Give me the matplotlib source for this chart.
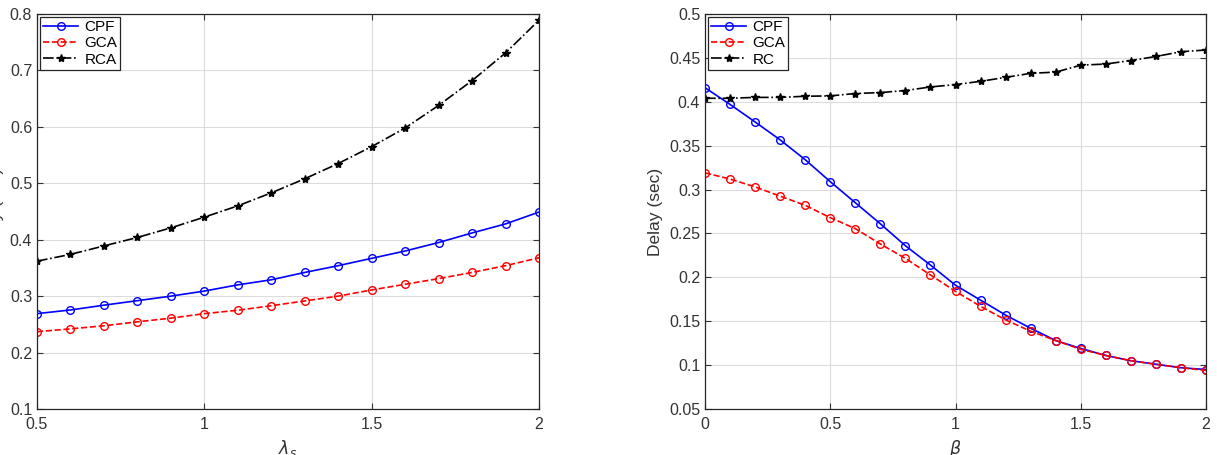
import numpy as np
import matplotlib.pyplot as plt

plt.rcParams['font.family'] = ['Liberation Sans', 'DejaVu Sans']

lam = [0.5, 0.6, 0.7, 0.8, 0.9, 1.0, 1.1, 1.2, 1.3, 1.4, 1.5, 1.6, 1.7, 1.8, 1.9, 2.0]
cpf_l = [0.269, 0.2755, 0.284, 0.292, 0.300, 0.309, 0.320, 0.329, 0.342, 0.354,
         0.367, 0.380, 0.395, 0.412, 0.428, 0.449]
gca_l = [0.237, 0.242, 0.2475, 0.2545, 0.261, 0.269, 0.275, 0.283, 0.2915, 0.300,
         0.311, 0.321, 0.331, 0.342, 0.354, 0.368]
rca_l = [0.362, 0.374, 0.389, 0.404, 0.421, 0.440, 0.460, 0.483, 0.508, 0.535,
         0.565, 0.598, 0.638, 0.682, 0.731, 0.789]

beta = [0.0, 0.1, 0.2, 0.3, 0.4, 0.5, 0.6, 0.7, 0.8, 0.9, 1.0,
        1.1, 1.2, 1.3, 1.4, 1.5, 1.6, 1.7, 1.8, 1.9, 2.0]
cpf_r = [0.416, 0.397, 0.377, 0.3566, 0.334, 0.309, 0.285, 0.261, 0.236, 0.214, 0.191,
         0.174, 0.157, 0.142, 0.128, 0.119, 0.111, 0.105, 0.101, 0.097, 0.095]
gca_r = [0.319, 0.312, 0.303, 0.2925, 0.282, 0.268, 0.2555, 0.238, 0.2216, 0.2027, 0.184,
         0.167, 0.1515, 0.1386, 0.128, 0.118, 0.111, 0.105, 0.101, 0.097, 0.094]
rc_r = [0.404, 0.404, 0.405, 0.405, 0.4063, 0.4067, 0.4094, 0.4105, 0.4128, 0.4169, 0.4196,
        0.4233, 0.4278, 0.4324, 0.4338, 0.4417, 0.443, 0.447, 0.4516, 0.457, 0.459]

fig = plt.figure(figsize=(12.17, 4.55), dpi=100)
W, H = 1217, 455
ax1 = fig.add_axes([37 / W, (H - 409) / H, 502 / W, 395 / H])
ax2 = fig.add_axes([705 / W, (H - 409) / H, 501 / W, 395 / H])


def style(ax):
    ax.grid(True, color='#dcdcdc', linewidth=0.8)
    ax.set_axisbelow(True)
    ax.tick_params(direction='in', top=True, right=True, labelsize=11.5,
                   colors='#333333', length=4, width=0.8)
    ax.tick_params(axis='x', pad=6)
    for s in ax.spines.values():
        s.set_color('#262626')
        s.set_linewidth(0.9)


ax1.plot(lam, cpf_l, 'b-o', mfc='none', ms=5.5, lw=1.2, label='CPF')
ax1.plot(lam, gca_l, 'r--o', mfc='none', ms=5.5, lw=1.2, label='GCA')
ax1.plot(lam, rca_l, 'k-.*', ms=6, lw=1.2, label='RCA')
ax1.set_xlim(0.5, 2)
ax1.set_ylim(0.1, 0.8)
ax1.set_xticks([0.5, 1, 1.5, 2])
ax1.set_xticklabels(['0.5', '1', '1.5', '2'])
ax1.set_xlabel(r'$\lambda_s$', fontsize=12.5, color='#333333')
ax1.set_ylabel('Delay (sec)', fontsize=12.5, color='#333333')
style(ax1)

ax2.plot(beta, cpf_r, 'b-o', mfc='none', ms=5.5, lw=1.2, label='CPF')
ax2.plot(beta, gca_r, 'r--o', mfc='none', ms=5.5, lw=1.2, label='GCA')
ax2.plot(beta, rc_r, 'k-.*', ms=6, lw=1.2, label='RC')
ax2.set_xlim(0, 2)
ax2.set_ylim(0.05, 0.5)
ax2.set_xticks([0, 0.5, 1, 1.5, 2])
ax2.set_xticklabels(['0', '0.5', '1', '1.5', '2'])
ax2.set_yticks(np.arange(0.05, 0.501, 0.05))
ax2.set_yticklabels(['0.05', '0.1', '0.15', '0.2', '0.25', '0.3', '0.35', '0.4', '0.45', '0.5'])
ax2.set_xlabel(r'$\beta$', fontsize=12.5, color='#333333')
ax2.set_ylabel('Delay (sec)', fontsize=12.5, color='#333333')
style(ax2)

for ax in (ax1, ax2):
    leg = ax.legend(loc='upper left', fontsize=11, fancybox=False, framealpha=1,
                    edgecolor='#262626', borderaxespad=0.2, handlelength=2.3,
                    borderpad=0.2, labelspacing=0.15, handletextpad=0.4)
    leg.get_frame().set_linewidth(0.9)

fig.savefig('out.png', dpi=100)
